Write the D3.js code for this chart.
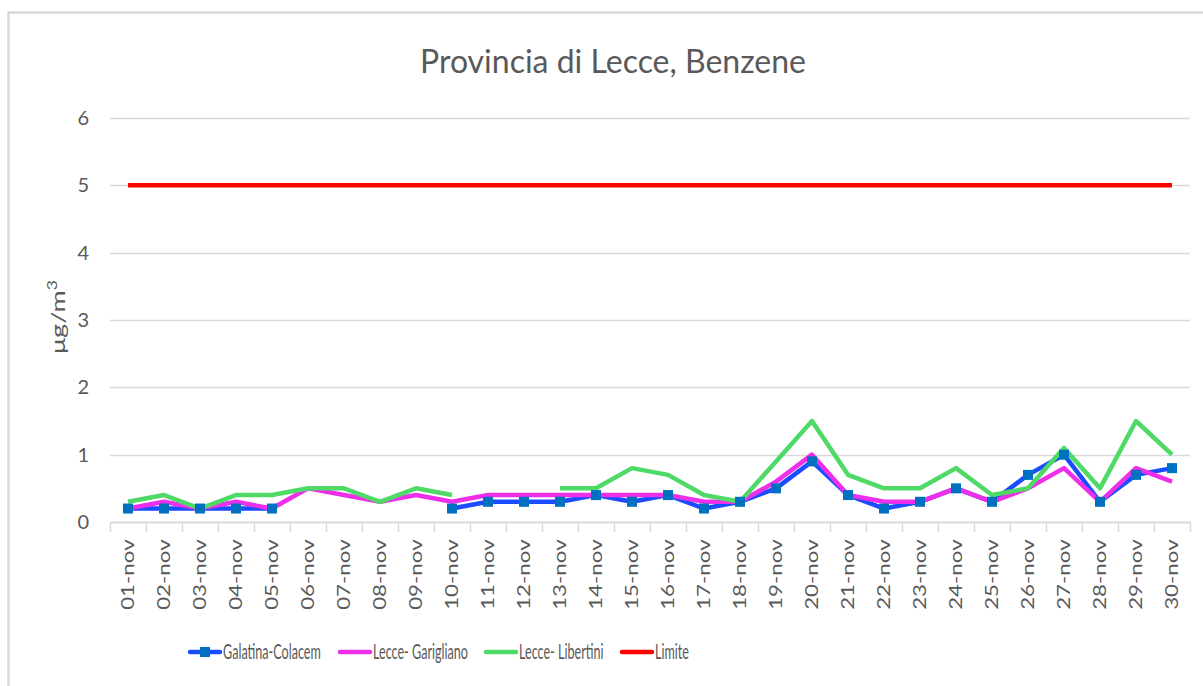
<!DOCTYPE html>
<html>
<head>
<meta charset="utf-8">
<script src="https://cdn.jsdelivr.net/npm/d3@7"></script>
<style>
  body { margin: 0; background: #fff; }
</style>
</head>
<body>
<svg></svg>
<script>
let days = d3.range(1, 31).map(d => `${String(d).padStart(2, '0')}-nov`);

let galatina = [0.2, 0.2, 0.2, 0.2, 0.2, null, null, null, null, 0.2,
    0.3, 0.3, 0.3, 0.4, 0.3, 0.4, 0.2, 0.3, 0.5, 0.9,
    0.4, 0.2, 0.3, 0.5, 0.3, 0.7, 1.0, 0.3, 0.7, 0.8];
let garigliano = [0.2, 0.3, 0.2, 0.3, 0.2, 0.5, 0.4, 0.3, 0.4, 0.3,
    0.4, 0.4, 0.4, 0.4, 0.4, 0.4, 0.3, 0.3, 0.6, 1.0,
    0.4, 0.3, 0.3, 0.5, 0.3, 0.5, 0.8, 0.3, 0.8, 0.6];
let libertini = [0.3, 0.4, 0.2, 0.4, 0.4, 0.5, 0.5, 0.3, 0.5, 0.4,
    null, null, 0.5, 0.5, 0.8, 0.7, 0.4, 0.3, 0.9, 1.5,
    0.7, 0.5, 0.5, 0.8, 0.4, 0.5, 1.1, 0.5, 1.5, 1.0];
let limite = days.map(() => 5);

let yTicks = [0, 1, 2, 3, 4, 5, 6];

let series = [
    { name: 'Galatina-Colacem', values: galatina, color: '#1a4dff', marker: true },
    { name: 'Lecce- Garigliano', values: garigliano, color: '#ee2ee8' },
    { name: 'Lecce- Libertini', values: libertini, color: '#4fd966' },
    { name: 'Limite', values: limite, color: '#ff0000' }
];

let width = 1203;
let height = 686;
let font = 'Lato, "Open Sans", sans-serif';
let textColor = '#595959';

let svg = d3.select('svg')
    .attr('width', width)
    .attr('height', height)
    .attr('font-family', font);

// chart frame (only top and left edges fall inside the picture)
svg.append('rect')
    .attr('x', 8.5).attr('y', 12.5)
    .attr('width', width + 20).attr('height', height + 20)
    .attr('fill', 'none')
    .attr('stroke', '#d9d9d9')
    .attr('stroke-width', 2.5);

let margin = { left: 110, right: 13, top: 118, bottom: 164 };

let x = d3.scaleBand()
    .domain(days)
    .range([margin.left, width - margin.right]);

let y = d3.scaleLinear()
    .domain([0, 6])
    .range([height - margin.bottom, margin.top]);

// gridlines
svg.append('g')
    .selectAll('line')
    .data(yTicks.filter(d => d > 0))
    .enter()
    .append('line')
    .attr('x1', margin.left)
    .attr('x2', width - margin.right)
    .attr('y1', d => Math.round(y(d)) + 0.5)
    .attr('y2', d => Math.round(y(d)) + 0.5)
    .attr('stroke', '#d9d9d9')
    .attr('stroke-width', 1.5);

// y axis labels
svg.append('g')
    .selectAll('text')
    .data(yTicks)
    .enter()
    .append('text')
    .attr('x', 89)
    .attr('y', d => y(d))
    .attr('dy', '0.35em')
    .attr('text-anchor', 'end')
    .attr('font-size', 20)
    .attr('fill', textColor)
    .text(d => d);

svg.append('text')
    .attr('transform', `translate(65, ${y(3) - 3}) rotate(-90) scale(1.35, 1)`)
    .attr('text-anchor', 'middle')
    .attr('font-size', 20)
    .attr('fill', textColor)
    .html('μg/m<tspan dy="-8" font-size="13">3</tspan>');

// x axis
let xAxis = d3.axisBottom(x)
    .tickSize(0)
    .tickSizeOuter(0);

let gx = svg.append('g')
    .attr('transform', `translate(0, ${y(0)})`)
    .call(xAxis);

gx.select('.domain')
    .attr('stroke', '#d9d9d9')
    .attr('stroke-width', 2);

gx.selectAll('.tick line').remove();

gx.selectAll('.tick text')
    .attr('font-family', font)
    .attr('font-size', 18)
    .attr('fill', textColor)
    .attr('transform', 'rotate(-90) scale(1.24, 1)')
    .attr('text-anchor', 'end')
    .attr('x', -14)
    .attr('y', 0)
    .attr('dy', '0.35em');

// band boundary ticks
gx.selectAll('.sep')
    .data(d3.range(days.length + 1))
    .enter()
    .append('line')
    .attr('class', 'sep')
    .attr('x1', i => Math.round(margin.left + i * x.step()) + 0.5)
    .attr('x2', i => Math.round(margin.left + i * x.step()) + 0.5)
    .attr('y1', 0)
    .attr('y2', 10)
    .attr('stroke', '#d9d9d9')
    .attr('stroke-width', 1.5);

let cx = d => x(d) + x.bandwidth() / 2;

let line = d3.line()
    .defined(d => d.v !== null)
    .x(d => cx(d.day))
    .y(d => y(d.v));

let lines = svg.append('g');

series.forEach(s => {
    let pts = days.map((day, i) => ({ day: day, v: s.values[i] }));
    lines.append('path')
        .datum(pts)
        .attr('d', line)
        .attr('fill', 'none')
        .attr('stroke', s.color)
        .attr('stroke-width', 4.5)
        .attr('stroke-linejoin', 'round');
});

// markers for Galatina-Colacem
svg.append('g')
    .selectAll('rect')
    .data(days.map((day, i) => ({ day: day, v: galatina[i] })).filter(d => d.v !== null))
    .enter()
    .append('rect')
    .attr('x', d => cx(d.day) - 5)
    .attr('y', d => y(d.v) - 5)
    .attr('width', 10)
    .attr('height', 10)
    .attr('fill', '#0070c0');

// title
svg.append('text')
    .attr('x', 613)
    .attr('y', 73)
    .attr('text-anchor', 'middle')
    .attr('font-size', 32)
    .attr('fill', textColor)
    .text('Provincia di Lecce, Benzene');

// legend
let legendX = [190, 340, 486, 622];
let legend = svg.append('g')
    .selectAll('g')
    .data(series)
    .enter()
    .append('g')
    .attr('transform', (d, i) => `translate(${legendX[i]}, 652)`);

legend.append('line')
    .attr('x1', 0)
    .attr('x2', 30)
    .attr('stroke', d => d.color)
    .attr('stroke-width', 4.5)
    .attr('stroke-linecap', 'round');

legend.filter(d => d.marker)
    .append('rect')
    .attr('x', 10).attr('y', -5)
    .attr('width', 10).attr('height', 10)
    .attr('fill', '#0070c0');

legend.append('text')
    .attr('transform', 'translate(33, 0) scale(0.6, 1)')
    .attr('dy', '0.35em')
    .attr('font-size', 21)
    .attr('fill', textColor)
    .text(d => d.name);
</script>
</body>
</html>
